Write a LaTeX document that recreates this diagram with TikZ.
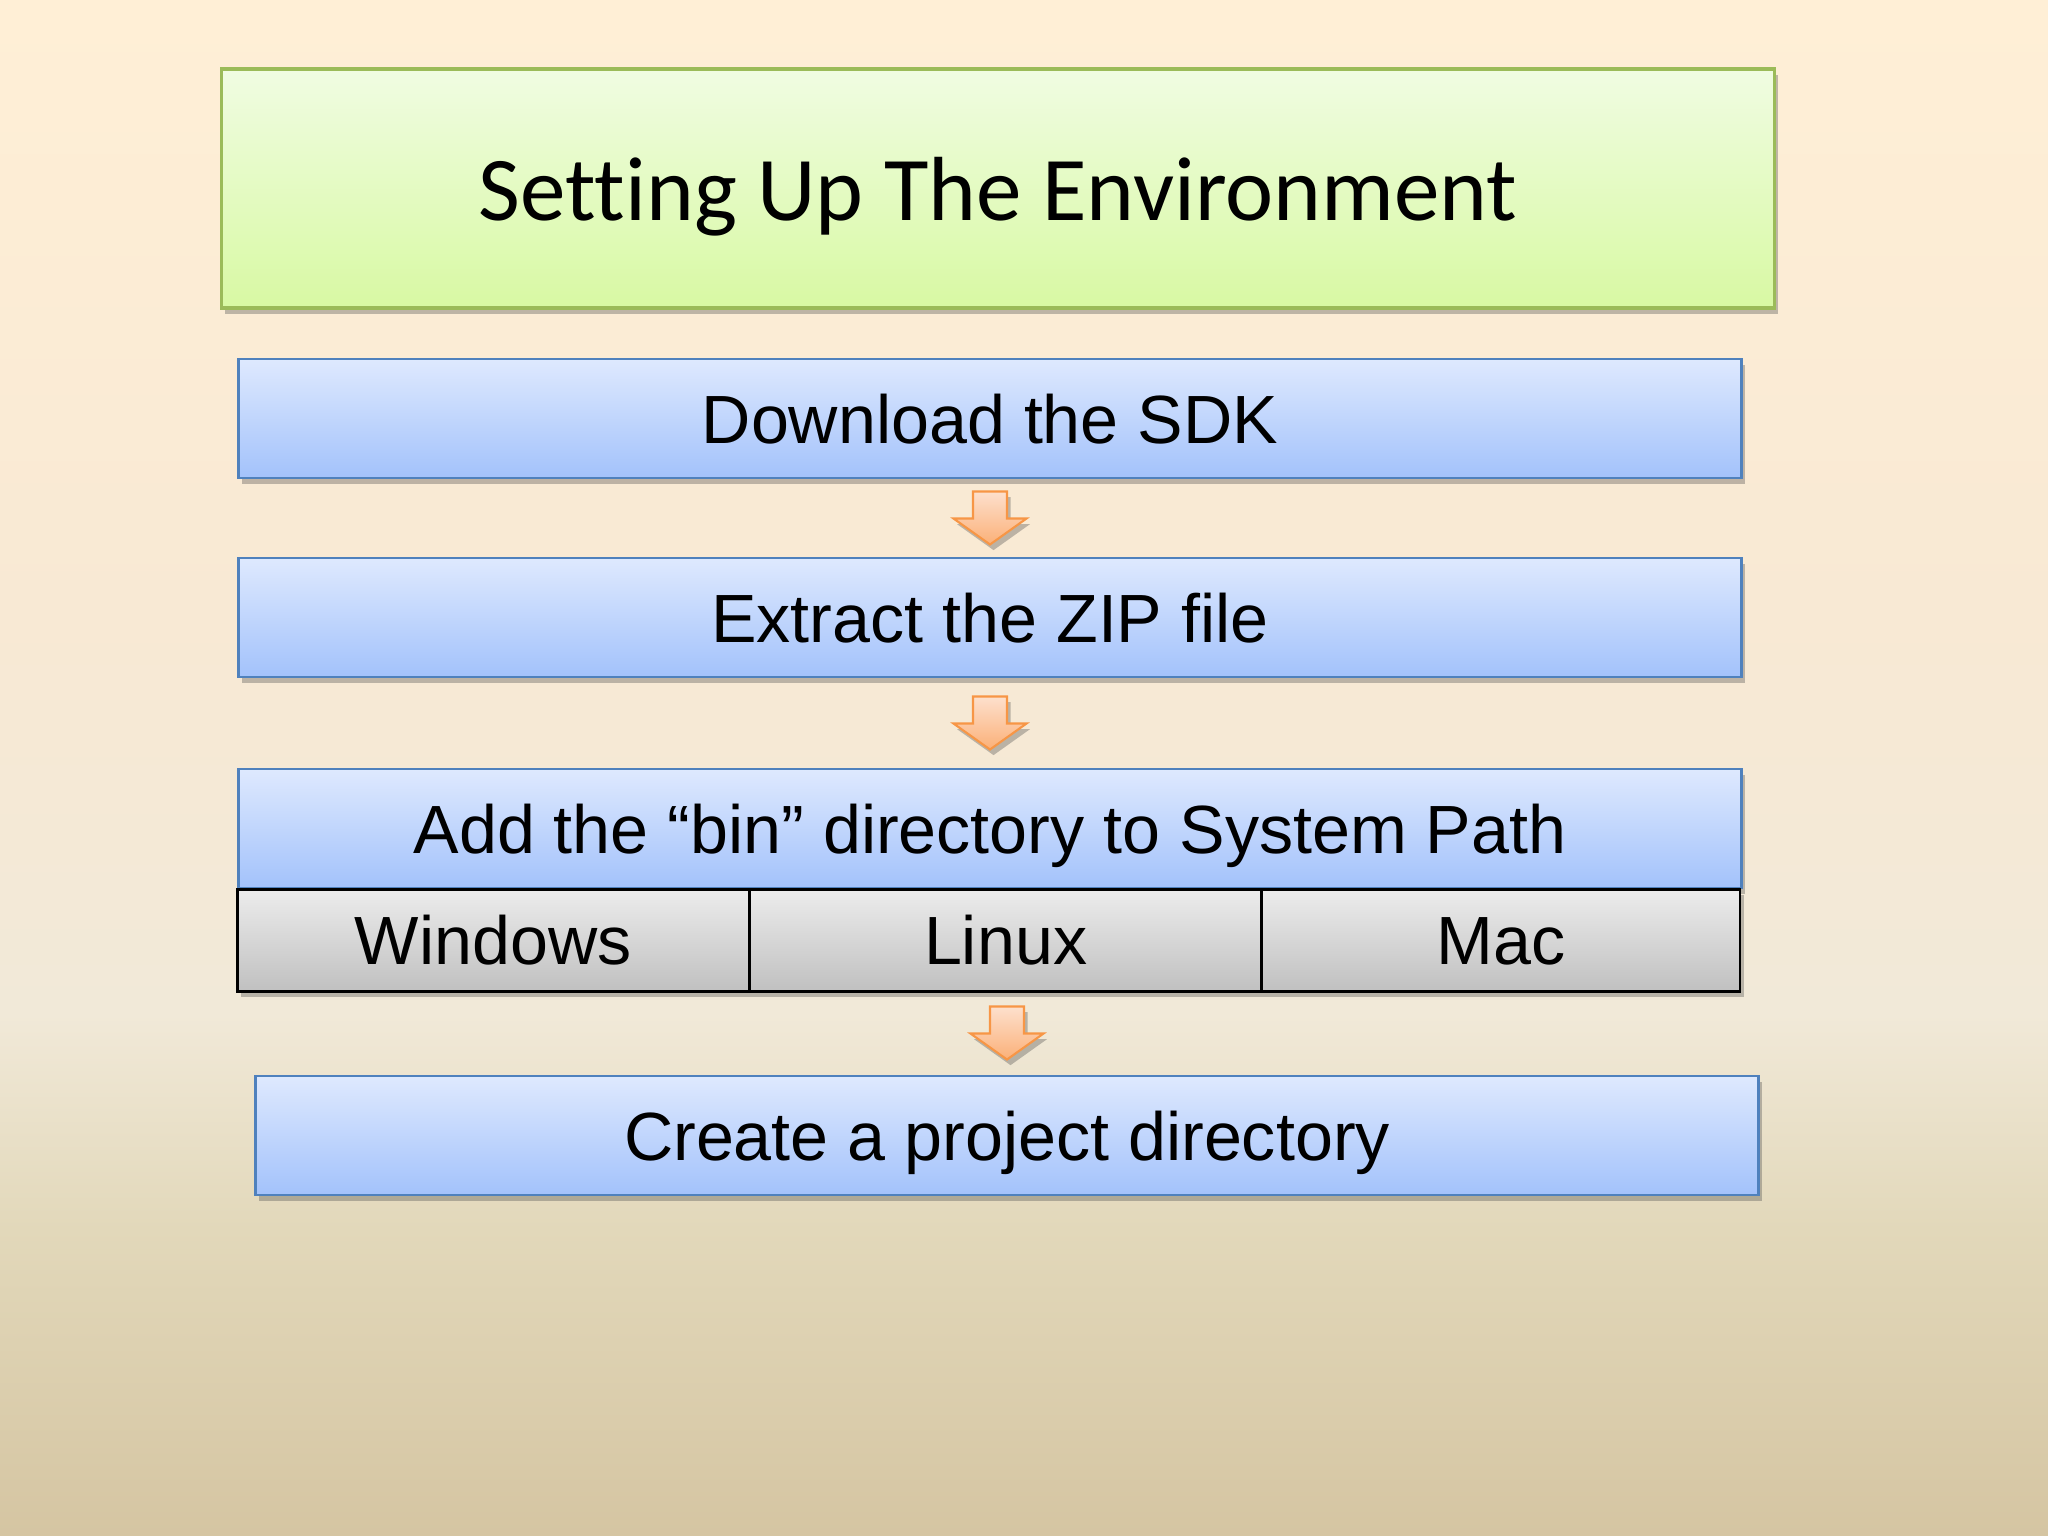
\documentclass[tikz,border=0pt]{standalone}
\usepackage{fontspec}
\newfontfamily\titlefont[Ligatures=NoCommon]{Carlito}
\newfontfamily\boxfont{Liberation Sans}
\usetikzlibrary{shadows,calc}

\definecolor{bgtop}{RGB}{255,239,214}
\definecolor{bgupper}{RGB}{248,233,212}
\definecolor{bgmid}{RGB}{241,233,216}
\definecolor{bglow}{RGB}{226,216,186}
\definecolor{bgbot}{RGB}{213,197,162}
\definecolor{titletop}{RGB}{240,252,226}
\definecolor{titlebot}{RGB}{216,249,163}
\definecolor{titleline}{RGB}{155,187,89}
\definecolor{bluetop}{RGB}{222,233,254}
\definecolor{bluebot}{RGB}{163,194,251}
\definecolor{blueline}{RGB}{79,129,189}
\definecolor{celltop}{RGB}{236,236,236}
\definecolor{cellbot}{RGB}{192,192,192}
\definecolor{arrowtop}{RGB}{253,224,205}
\definecolor{arrowbot}{RGB}{251,176,120}
\definecolor{arrowline}{RGB}{247,150,70}

% only 25bp..75bp of the shading is seen inside the path
\pgfdeclareverticalshading{bgfade}{100bp}{color(0bp)=(bgbot); color(25bp)=(bgbot);
  color(35bp)=(bglow); color(42bp)=(bgmid); color(55bp)=(bgupper);
  color(75bp)=(bgtop); color(100bp)=(bgtop)}

\tikzset{
  boxshadow/.style={drop shadow={shadow xshift=1pt,shadow yshift=-1.6pt,opacity=.35,fill=black!70}},
  titlebox/.style={draw=titleline, line width=0.9pt, top color=titletop, bottom color=titlebot,
    minimum width=15.52cm, minimum height=2.39cm, inner sep=0pt, boxshadow,
    text height=18.3pt, text depth=0pt,
    font=\titlefont\fontsize{25.9}{30}\selectfont},
  stepbox/.style={draw=blueline, line width=0.8pt, top color=bluetop, bottom color=bluebot,
    minimum width=15.02cm, minimum height=1.19cm, inner sep=0pt, boxshadow,
    text height=14.4pt, text depth=0pt,
    font=\boxfont\fontsize{19.4}{23}\selectfont},
  oscell/.style={draw=black, line width=0.8pt, top color=celltop, bottom color=cellbot,
    minimum height=1.02cm, inner sep=0pt, outer sep=0pt, anchor=north west, boxshadow,
    text height=13.6pt, text depth=0pt,
    font=\boxfont\fontsize{19.4}{23}\selectfont},
  blockarrow/.pic={
    \draw[draw=arrowline, line width=0.6pt, top color=arrowtop, bottom color=arrowbot, boxshadow]
      (-17,-26.5) -- (17,-26.5) -- (17,0.5) -- (36.5,0.5) -- (0,26.5) -- (-36.5,0.5)
      -- (-17,0.5) -- cycle;
  }
}

\begin{document}
\begin{tikzpicture}[x=0.01cm,y=-0.01cm]
  % background
  \shade[shading=bgfade] (0,0) rectangle (2048,1536);
  \useasboundingbox (0,0) rectangle (2048,1536);

  \node[titlebox] (title) at (998,188.5) {Setting Up The Environment};

  \node[stepbox] (download) at (990,418.5) {Download the SDK};
  \node[stepbox] (extract) at (990,617.5) {Extract the ZIP file};
  \node[stepbox] (addpath) at (990,828.5) {Add the “bin” directory to System Path};

  % OS cells under the path step
  \node[oscell, minimum width=5.12cm] (windows) at (addpath.south west) {Windows};
  \node[oscell, minimum width=5.12cm] (linux) at (windows.north east) {Linux};
  \node[oscell, minimum width=4.78cm] (mac) at (linux.north east) {Mac};

  \node[stepbox] (create) at (1007,1135.5) {Create a project directory};

  % block arrows between the steps
  \coordinate (a1) at ($(download.south)!0.5!(extract.north)$);
  \coordinate (a2) at ($(extract.south)!0.5!(addpath.north)$);
  \coordinate (a3) at ($(create.north)!0.5!(create.north |- linux.south)$);
  \pic at (a1) {blockarrow};
  \pic at (a2) {blockarrow};
  \pic at (a3) {blockarrow};
\end{tikzpicture}
\end{document}
